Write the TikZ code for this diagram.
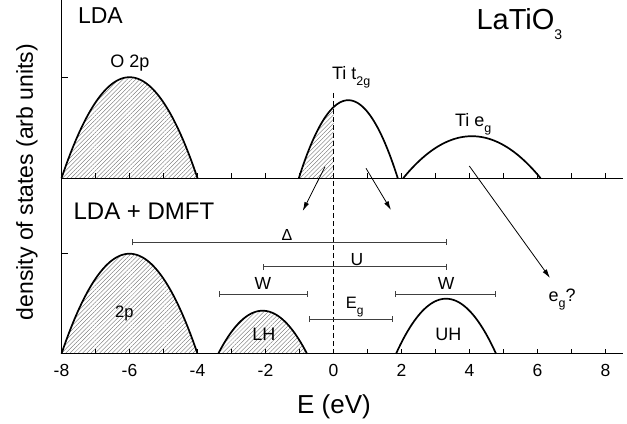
\documentclass[tikz,border=0pt]{standalone}
\usepackage{fontspec}
\setmainfont{Liberation Sans}
\usetikzlibrary{arrows.meta,patterns.meta}
\newcommand{\lowsub}[3]{\raisebox{-#2}{\fontsize{#1}{#1}\selectfont #3}}
\tikzset{
  bandcurve/.style={line width=1.7pt,line join=round},
  bandhatch/.style={pattern={Lines[angle=45,distance=3pt,line width=0.35pt]},pattern color=black!60},
  axisline/.style={line width=0.9pt},
  gapbar/.style={{Bar[width=6pt]}-{Bar[width=6pt]},line width=0.8pt,draw=black!75},
  bandarrow/.style={-{Latex[length=9pt,width=5pt]},line width=0.8pt},
  paneltitle/.style={font=\fontsize{23}{26}\selectfont,anchor=base west,inner sep=0pt},
  bandlabel/.style={font=\fontsize{18}{20}\selectfont,anchor=base west,inner sep=0pt},
  gaplabel/.style={font=\fontsize{17.5}{20}\selectfont,anchor=base,inner sep=0pt},
  ticklabel/.style={font=\fontsize{17.5}{20}\selectfont,anchor=base,inner sep=0pt},
  declare function={band(\e,\c,\w,\h)=\h*(1-((\e-\c)/\w)*((\e-\c)/\w));}
}
\begin{document}
\begin{tikzpicture}[x=34pt,y=100pt]
  \useasboundingbox (-9.809,-0.693) rectangle (8.632,3.537);
  \fill[bandhatch] plot[domain=-8:-4,samples=60] (\x,{1.755+band(\x,-6,2,1.01)}) -- cycle;
  \fill[bandhatch] plot[domain=-1.02:0,samples=30] (\x,{1.755+band(\x,0.435,1.455,0.78)}) -- (0,1.755) -- cycle;
  \fill[bandhatch] plot[domain=-8:-4,samples=60] (\x,{band(\x,-6,2,1.0)}) -- cycle;
  \fill[bandhatch] plot[domain=-3.39:-0.78,samples=40] (\x,{band(\x,-2.085,1.305,0.43)}) -- cycle;
  \draw[axisline] (-8,3.537) -- (-8,0) -- (8.51,0);
  \draw[axisline] (-8,1.755) -- (8.51,1.755);
  \draw[axisline] (-8,2.767) -- ++(6pt,0) (-8,1.0) -- ++(6pt,0);
  \foreach \x in {-8,...,8} {
    \draw[axisline] (\x,0) -- ++(0,5pt);
    \draw[axisline] (\x,1.755) -- ++(0,5pt);
  }
  \foreach \x in {-8,-6,...,8}
    \node[ticklabel] (tick\x) at (\x,-0.23) {\x};
  \draw[bandcurve] plot[domain=-8:-4,samples=60] (\x,{1.755+band(\x,-6,2,1.01)});
  \draw[bandcurve] plot[domain=-1.02:1.89,samples=60] (\x,{1.755+band(\x,0.435,1.455,0.78)});
  \draw[bandcurve] plot[domain=2.05:6.09,samples=60] (\x,{1.755+band(\x,4.07,2.02,0.42)});
  \draw[bandcurve] plot[domain=-8:-4,samples=60] (\x,{band(\x,-6,2,1.0)});
  \draw[bandcurve] plot[domain=-3.39:-0.78,samples=50] (\x,{band(\x,-2.085,1.305,0.43)});
  \draw[bandcurve] plot[domain=1.84:4.78,samples=50] (\x,{band(\x,3.31,1.47,0.55)});
  \draw[line width=1.1pt,dash pattern=on 5pt off 3pt] (0,2.607) -- (0,0);
  \draw[gapbar] (-5.94,1.114) -- (3.33,1.114);
  \draw[gapbar] (-2.07,0.87) -- (3.33,0.87);
  \draw[gapbar] (-3.37,0.597) -- (-0.77,0.597);
  \draw[gapbar] (1.81,0.597) -- (4.78,0.597);
  \draw[gapbar] (-0.72,0.347) -- (1.75,0.347);
  \coordinate (t2gocc) at (-0.25,1.87);
  \coordinate (t2gemp) at (0.956,1.854);
  \coordinate (egband) at (3.994,1.877);
  \coordinate (lhband) at (-0.906,1.427);
  \coordinate (uhband) at (1.691,1.437);
  \coordinate (egdmft) at (6.368,0.757);
  \draw[bandarrow] (t2gocc) -- (lhband);
  \draw[bandarrow] (t2gemp) -- (uhband);
  \draw[bandarrow] (egband) -- (egdmft);
  \node[paneltitle] (lda) at (-7.52,3.297) {LDA};
  \node[paneltitle,font=\fontsize{24}{26}\selectfont] (dmft) at (-7.65,1.344) {LDA + DMFT};
  \node[paneltitle,font=\fontsize{29}{32}\selectfont] (compound) at (4.2,3.244)
    {LaTiO\lowsub{14}{10.5pt}{3}};
  \node[bandlabel] (otwop) at (-6.57,2.86) {O 2p};
  \node[bandlabel] (tit2g) at (-0.05,2.737) {Ti t\lowsub{12.5}{6pt}{2g}};
  \node[bandlabel] (tieg) at (3.57,2.27) {Ti e\lowsub{12.5}{6pt}{g}};
  \node[bandlabel] (egq) at (6.32,0.52) {e\lowsub{12.5}{6pt}{g}?};
  \node[gaplabel,font=\fontsize{16}{18}\selectfont] (delta) at (-1.37,1.13) {Δ};
  \node[gaplabel] (ulabel) at (0.69,0.887) {U};
  \node[gaplabel] (wleft) at (-2.08,0.644) {W};
  \node[gaplabel] (wright) at (3.31,0.644) {W};
  \node[gaplabel,anchor=base west,font=\fontsize{16.5}{18}\selectfont] (eglabel) at (0.36,0.454) {E\lowsub{12}{6pt}{g}};
  \node[gaplabel,anchor=base west,font=\fontsize{16.5}{18}\selectfont] (twop) at (-6.43,0.364) {2p};
  \node[bandlabel] (lh) at (-2.39,0.137) {LH};
  \node[bandlabel] (uh) at (2.99,0.13) {UH};
  \node[font=\fontsize{26}{28}\selectfont,anchor=base,inner sep=0pt] (xlabel) at (0.015,-0.596) {E (eV)};
  \node[font=\fontsize{23}{26}\selectfont,anchor=base,inner sep=0pt,rotate=90] (ylabel) at (-8.84,1.717)
    {density of states (arb units)};
\end{tikzpicture}
\end{document}
